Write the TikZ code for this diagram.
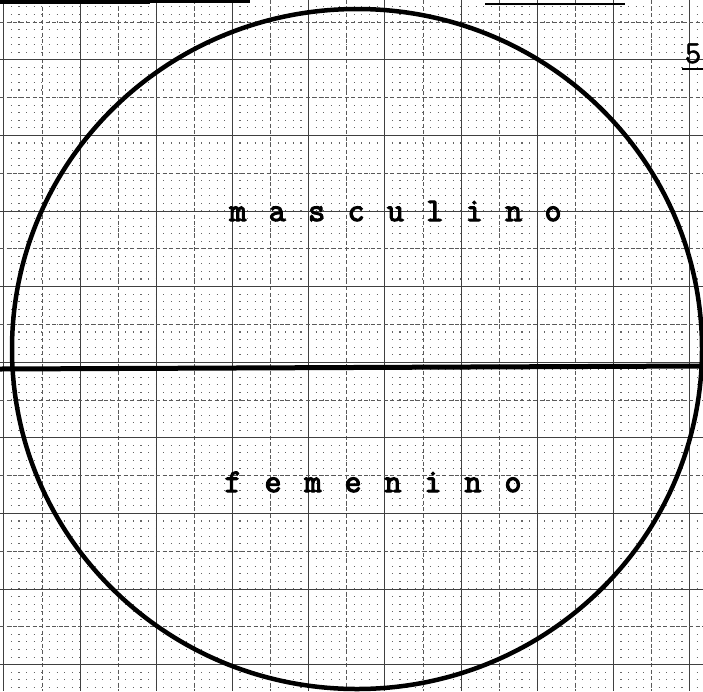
\documentclass[tikz,border=0pt]{standalone}
\usepackage{fontspec}
\newfontfamily\twb[FakeBold=3.5]{Latin Modern Mono}
\newfontfamily\twn[FakeBold=1.5]{Latin Modern Mono}
\usetikzlibrary{shapes.geometric}
\newcommand\ltrA[1]{\makebox[39.4pt]{#1}}
\newcommand\ltrB[1]{\makebox[40pt]{#1}}
\tikzset{
  major/.style={line width=0.8pt, black!75},
  midline/.style={line width=0.8pt, black!65, dash pattern=on 4pt off 2.5pt},
  minordots/.style={line width=1.1pt, black!60, dash pattern=on 1.1pt off 6.52pt},
  heavy/.style={line width=5pt, black},
  word/.style={font=\twb\fontsize{33}{33}\selectfont, inner sep=0pt, anchor=base},
}
\begin{document}
\begin{tikzpicture}[x=1pt,y=-1pt]
\useasboundingbox (0,0) rectangle (703,691);
\clip (0,0) rectangle (703,691);
\fill[white] (0,0) rectangle (703,691);
% minor dotted rows
\foreach \j in {-2,...,88} \draw[minordots] (3.25,{22+7.56*\j}) -- (703,{22+7.56*\j});
% vertical grid
\foreach \k in {0,2,...,18} \draw[major] ({3.8+38.1*\k},0) -- ({3.8+38.1*\k},691);
\foreach \k in {1,3,...,17} \draw[midline] ({3.8+38.1*\k},0) -- ({3.8+38.1*\k},691);
% horizontal grid
\foreach \k in {1,3,...,17} \draw[major] (0,{22+37.8*\k}) -- (703,{22+37.8*\k});
\foreach \k in {0,2,...,16} \draw[midline] (0,{22+37.8*\k}) -- (703,{22+37.8*\k});
% top marks
\coordinate (tl1) at (0,1.5); \coordinate (tl2) at (150,1.5); \coordinate (tl3) at (250,1.5);
\draw[line width=4pt] (tl1) -- (tl2);
\draw[line width=2.5pt] (tl2) -- (tl3);
\coordinate (tr1) at (485,4); \coordinate (tr2) at (512,4); \coordinate (tr3) at (625,4);
\draw[line width=1.8pt] (tr1) -- (tr2);
\draw[line width=2.8pt] (tr2) -- (tr3);
% page number
\node[font=\twn\fontsize{32}{32}\selectfont, inner sep=0pt, anchor=base] (num) at (693,63) {5};
\coordinate (u1) at (682,69); \coordinate (u2) at (703,69);
\draw[line width=2.5pt] (u1) -- (u2);
% circle
\node[draw, ellipse, line width=4.5pt, minimum width=690pt, minimum height=680pt, inner sep=0pt] (circ) at (357,349) {};
% dividing line
\coordinate (L) at (0,369); \coordinate (R) at (703,366);
\draw[heavy] (L) -- (R);
% words
\node[word] (masc) at (395.5,221) {\ltrA{m}\ltrA{a}\ltrA{s}\ltrA{c}\ltrA{u}\ltrA{l}\ltrA{i}\ltrA{n}\ltrA{o}};
\node[word] (fem) at (373,492) {\ltrB{f}\ltrB{e}\ltrB{m}\ltrB{e}\ltrB{n}\ltrB{i}\ltrB{n}\ltrB{o}};
\end{tikzpicture}
\end{document}
